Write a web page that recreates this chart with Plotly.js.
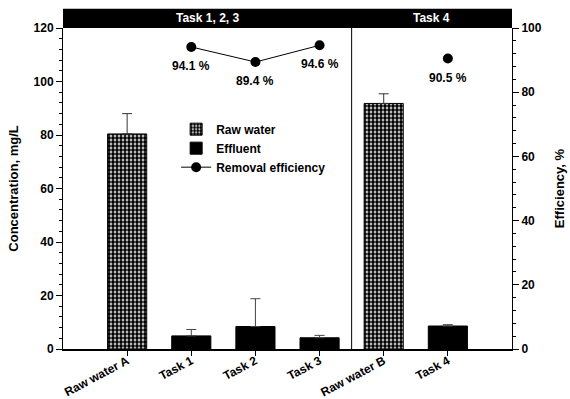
<!DOCTYPE html>
<html>
<head>
<meta charset="utf-8">
<script src="https://cdn.plot.ly/plotly-3.0.1.min.js"></script>
<style>
  html, body { margin: 0; padding: 0; background: #fff; }
  #chart { width: 570px; height: 399px; }
</style>
</head>
<body>
<div id="chart"></div>
<script>
// Sample categories along the x axis
const categories = ['Raw water A', 'Task 1', 'Task 2', 'Task 3', 'Raw water B', 'Task 4'];

// Raw water concentrations (mg/L) and their upper error
const rawCats = ['Raw water A', 'Raw water B'];
const rawValues = [80.4, 91.8];
const rawErrors = [7.6, 3.6];

// Effluent concentrations (mg/L) and their upper error
const effCats = ['Task 1', 'Task 2', 'Task 3', 'Task 4'];
const effValues = [4.9, 8.4, 4.2, 8.6];
const effErrors = [2.4, 10.4, 0.9, 0.5];

// Removal efficiency (%); the gap keeps Task 4 unconnected
const effiCats = ['Task 1', 'Task 2', 'Task 3', 'Raw water B', 'Task 4'];
const effiValues = [94.1, 89.4, 94.6, null, 90.5];

// Header groups: label and the category span it covers
const groupLabels = ['Task 1, 2, 3', 'Task 4'];
const groupSpans = [[-1, 3.5], [3.5, 6]];

const FONT = 'Liberation Sans, Arial, Helvetica, sans-serif';
const bold = (size, color) => ({ family: FONT, size: size, color: color || '#000', weight: 'bold' });

const zeros = n => new Array(n).fill(0);

const traces = [
  {
    type: 'bar', name: 'Raw water', x: rawCats, y: rawValues, width: 0.61,
    marker: {
      color: '#fff',
      line: { color: '#000', width: 1 },
      pattern: { shape: '.', size: 4, solidity: 0.7, fgcolor: '#000', bgcolor: '#fff', fillmode: 'replace' }
    },
    error_y: { type: 'data', symmetric: false, array: rawErrors, arrayminus: zeros(rawErrors.length),
               color: '#333', thickness: 1, width: 5 }
  },
  {
    type: 'bar', name: 'Effluent', x: effCats, y: effValues, width: 0.61,
    marker: { color: '#000', line: { color: '#000', width: 1 } },
    error_y: { type: 'data', symmetric: false, array: effErrors, arrayminus: zeros(effErrors.length),
               color: '#444', thickness: 1, width: 5 }
  },
  {
    type: 'scatter', name: 'Removal efficiency', x: effiCats, y: effiValues, yaxis: 'y2',
    mode: 'lines+markers', connectgaps: false,
    line: { color: '#000', width: 1 },
    marker: { color: '#000', size: 10 }
  }
];

// Percentage labels below each efficiency point
const annotations = [];
effiCats.forEach((c, i) => {
  if (effiValues[i] === null) return;
  annotations.push({
    x: c, y: effiValues[i], xref: 'x', yref: 'y2',
    text: effiValues[i].toFixed(1) + ' %', showarrow: false,
    yshift: -19, font: bold(12)
  });
});

// Black header band with group labels, and the divider between groups
const shapes = [
  { type: 'rect', xref: 'paper', yref: 'paper', x0: 0, x1: 1, y0: 1, y1: 1.06,
    fillcolor: '#000', line: { width: 0 } },
  { type: 'line', xref: 'x', yref: 'paper', x0: 3.5, x1: 3.5, y0: 0, y1: 1,
    line: { color: '#000', width: 1 } }
];
groupLabels.forEach((g, i) => {
  annotations.push({
    x: (groupSpans[i][0] + groupSpans[i][1]) / 2, xref: 'x',
    y: 1.03, yref: 'paper', text: g, showarrow: false,
    font: bold(12, '#fff'), yanchor: 'middle'
  });
});

const layout = {
  width: 570, height: 399,
  margin: { l: 63, r: 58, t: 28, b: 50 },
  paper_bgcolor: '#fff', plot_bgcolor: '#fff',
  barmode: 'overlay',
  showlegend: true,
  legend: {
    x: 0.252, y: 0.73, xanchor: 'left', yanchor: 'top',
    bgcolor: 'rgba(0,0,0,0)', font: bold(12), traceorder: 'normal',
    tracegroupgap: 0, itemwidth: 30
  },
  xaxis: {
    type: 'category', categoryorder: 'array', categoryarray: categories,
    range: [-1, 6], showgrid: false, zeroline: false,
    showline: true, linecolor: '#000', linewidth: 1.5,
    ticks: 'outside', ticklen: 5, tickcolor: '#000',
    tickangle: -28, ticklabelstandoff: -6, tickfont: bold(12)
  },
  yaxis: {
    range: [0, 120], dtick: 20, showgrid: false, zeroline: false,
    showline: true, linecolor: '#000', linewidth: 1,
    ticks: 'outside', ticklen: 6, tickcolor: '#000', tickfont: bold(12),
    minor: { dtick: 4, ticks: 'outside', ticklen: 3, tickcolor: '#000' },
    title: { text: 'Concentration, mg/L', font: bold(13), standoff: 12 }
  },
  yaxis2: {
    overlaying: 'y', side: 'right', range: [0, 100], dtick: 20,
    showgrid: false, zeroline: false,
    showline: true, linecolor: '#000', linewidth: 1,
    ticks: 'outside', ticklen: 6, tickcolor: '#000', tickfont: bold(12),
    minor: { dtick: 4, ticks: 'outside', ticklen: 3, tickcolor: '#000' },
    title: { text: 'Efficiency, %', font: bold(13), standoff: 14 }
  },
  shapes: shapes,
  annotations: annotations
};

Plotly.newPlot('chart', traces, layout, { displayModeBar: false, staticPlot: true });
</script>
</body>
</html>
